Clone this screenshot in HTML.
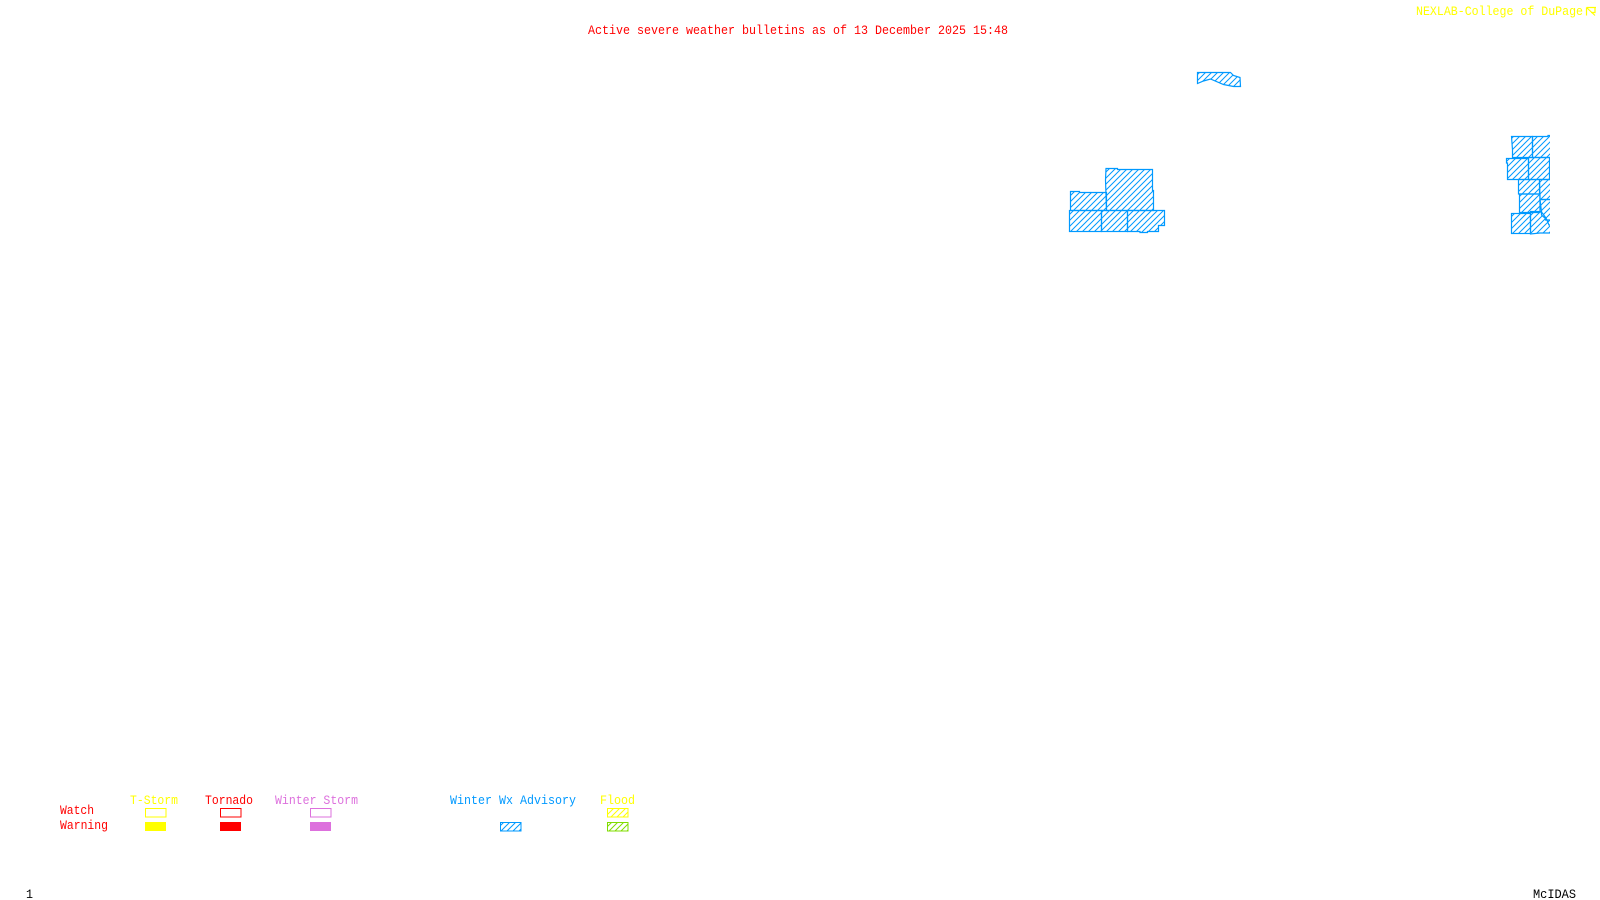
<!DOCTYPE html>
<html><head><meta charset="utf-8"><style>
html,body{margin:0;padding:0;background:#fff}
svg{display:block}
text{font-family:"Liberation Mono",monospace;font-size:13px;font-weight:normal}
.s{fill:url(#h);stroke:#0099ff;stroke-width:1.2}
</style></head><body>
<svg width="1600" height="900" viewBox="0 0 1600 900" xmlns="http://www.w3.org/2000/svg">
<defs>
<pattern id="h" width="6" height="6" patternUnits="userSpaceOnUse"><path d="M-1 7L7 -1M-1 1L1 -1M5 7L7 5" stroke="#0099ff" stroke-width="1" fill="none"/></pattern>
<pattern id="y" width="6" height="6" patternUnits="userSpaceOnUse"><path d="M-1 7L7 -1M-1 1L1 -1M5 7L7 5" stroke="#ffff00" stroke-width="1" fill="none"/></pattern>
<pattern id="g" width="6" height="6" patternUnits="userSpaceOnUse"><path d="M-1 7L7 -1M-1 1L1 -1M5 7L7 5" stroke="#80dd00" stroke-width="1" fill="none"/></pattern>
<clipPath id="c"><rect x="1490" y="120" width="60" height="130"/></clipPath>
</defs>
<rect width="1600" height="900" fill="#fff"/>

<text x="588" y="34" fill="#ff0000" textLength="420" lengthAdjust="spacingAndGlyphs">Active severe weather bulletins as of 13 December 2025 15:48</text>
<text x="1416" y="15" fill="#ffff00" textLength="167" lengthAdjust="spacingAndGlyphs">NEXLAB-College of DuPage</text>
<path d="M1586.5 7.5H1596M1586.5 7.5V15.5M1586.5 7.5L1595 15.5M1591 12.5H1595V7.5" fill="none" stroke="#ffff00" stroke-width="1.2"/>

<path class="s" d="M1197.5 72.5H1230.5L1233.5 75.5L1240 77.5L1240.5 86.5H1233.5L1223.5 84.5L1210.5 79L1203.5 81L1197.5 83.5Z"/>

<path class="s" d="M1106 168.5H1117.5V169.5H1152.5V190.5H1153.5V210.5H1106.5L1105.5 180Z"/>
<path class="s" d="M1070.5 191.5H1079.5V192.5H1106.5V210.5H1070.5Z"/>
<rect class="s" x="1069.5" y="210.5" width="32" height="21"/>
<rect class="s" x="1101.5" y="210.5" width="26" height="21"/>
<path class="s" d="M1127.5 210.5H1164.5V225.5H1158.5V231.5H1147.5V232.5H1140V231.5H1127.5Z"/>

<g clip-path="url(#c)">
<path class="s" d="M1511.5 136.5H1532.5V157.5H1512.5V150Z"/>
<path class="s" d="M1532.5 136.5H1548V135.5H1560V157.5H1532.5Z"/>
<path class="s" d="M1506.5 158.5H1528.5V179.5H1507.5V163H1506.5Z"/>
<path class="s" d="M1528.5 157.5H1549.5V179.5H1528.5Z"/>
<rect class="s" x="1518.5" y="179.5" width="21" height="14.5"/>
<path class="s" d="M1519.5 194H1540V212.5H1519.5Z"/>
<path class="s" d="M1539.5 179.5H1560V199.5H1540Z"/>
<path class="s" d="M1540 199.5H1560V225H1549L1546 218L1541.5 212Z"/>
<rect class="s" x="1511.5" y="213.5" width="19" height="20"/>
<path class="s" d="M1530.5 211.5H1541.5V215L1545.5 218.5V220H1560V233H1540L1530.5 234Z"/>
</g>

<text x="130" y="804" fill="#ffff00" textLength="48" lengthAdjust="spacingAndGlyphs">T-Storm</text>
<text x="205" y="804" fill="#ff0000" textLength="48" lengthAdjust="spacingAndGlyphs">Tornado</text>
<text x="275" y="804" fill="#dd70dd" textLength="83" lengthAdjust="spacingAndGlyphs">Winter Storm</text>
<text x="450" y="804" fill="#0099ff" textLength="126" lengthAdjust="spacingAndGlyphs">Winter Wx Advisory</text>
<text x="600" y="804" fill="#ffff00" textLength="35" lengthAdjust="spacingAndGlyphs">Flood</text>
<text x="60" y="814" fill="#ff0000" textLength="34" lengthAdjust="spacingAndGlyphs">Watch</text>
<text x="60" y="829" fill="#ff0000" textLength="48" lengthAdjust="spacingAndGlyphs">Warning</text>

<rect x="145.5" y="808.5" width="20.5" height="8.5" fill="none" stroke="#ffff00"/>
<rect x="220.5" y="808.5" width="20.5" height="8.5" fill="none" stroke="#ff0000"/>
<rect x="310.5" y="808.5" width="20.5" height="8.5" fill="none" stroke="#dd70dd"/>
<rect x="607.5" y="808.5" width="20.5" height="8.5" fill="url(#y)" stroke="#ffff00"/>
<rect x="145" y="822" width="21" height="9" fill="#ffff00"/>
<rect x="220" y="822" width="21" height="9" fill="#ff0000"/>
<rect x="310" y="822" width="21" height="9" fill="#dd70dd"/>
<rect x="500.5" y="822.5" width="20.5" height="8.5" fill="url(#h)" stroke="#0099ff"/>
<rect x="607.5" y="822.5" width="20.5" height="8.5" fill="url(#g)" stroke="#80dd00"/>

<text x="26" y="898" fill="#000" textLength="7" lengthAdjust="spacingAndGlyphs">1</text>
<text x="1533" y="898" fill="#000" textLength="43" lengthAdjust="spacingAndGlyphs">McIDAS</text>
</svg>
</body></html>
